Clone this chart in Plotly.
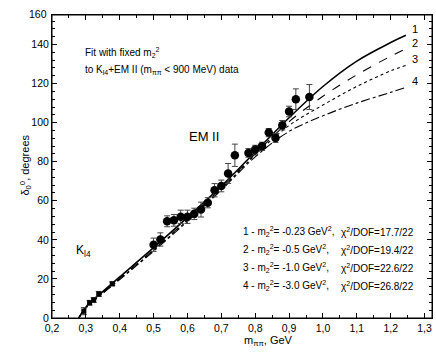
import plotly.graph_objects as go

# ---- data ----
em_x = [0.50, 0.52, 0.54, 0.56, 0.58, 0.60, 0.62, 0.64, 0.66, 0.68, 0.70, 0.72, 0.74,
        0.78, 0.80, 0.82, 0.84, 0.86, 0.88, 0.90, 0.92, 0.96]
em_y = [37.5, 40.2, 49.5, 50.0, 51.8, 51.8, 53.3, 55.5, 59.0, 65.4, 67.6, 74.0, 83.3,
        84.5, 86.2, 87.9, 94.9, 92.2, 98.7, 105.7, 112.0, 113.1]
em_err = [3.4, 3.4, 2.8, 3.0, 3.4, 3.4, 2.9, 3.8, 2.6, 3.4, 3.0, 5.1, 5.7,
          2.2, 2.2, 2.1, 2.1, 2.3, 2.4, 2.7, 5.3, 6.4]

kl4_x = [0.294, 0.311, 0.323, 0.338, 0.378]
kl4_y = [3.5, 7.8, 9.2, 12.3, 17.5]
kl4_err = [1.8, 1.2, 1.2, 1.3, 1.0]

fit_x = [0.279, 0.30, 0.35, 0.40, 0.50, 0.60, 0.70, 0.80, 0.90, 1.00, 1.10, 1.20, 1.245]
fit1 = [0, 5.5, 13.5, 21.0, 36.0, 51.5, 67.5, 85.0, 102.5, 118.5, 131.5, 141.0, 144.7]
fit2 = [0, 5.3, 13.0, 20.3, 35.0, 50.5, 66.5, 84.0, 100.5, 113.5, 124.5, 134.0, 137.9]
fit3 = [0, 5.2, 12.8, 20.0, 34.6, 50.0, 66.0, 83.5, 98.5, 109.0, 118.5, 126.5, 129.3]
fit4 = [0, 5.1, 12.6, 19.7, 34.2, 49.5, 65.5, 82.5, 95.5, 103.5, 110.0, 115.5, 118.0]

curve_labels = ["1", "2", "3", "4"]
legend_left = ["1 - m<sub>2</sub><sup>2</sup>= -0.23 GeV<sup>2</sup>,",
               "2 - m<sub>2</sub><sup>2</sup>= -0.5 GeV<sup>2</sup>,",
               "3 - m<sub>2</sub><sup>2</sup>= -1.0 GeV<sup>2</sup>,",
               "4 - m<sub>2</sub><sup>2</sup>= -3.0 GeV<sup>2</sup>,"]
legend_right = ["χ<sup>2</sup>/DOF=17.7/22", "χ<sup>2</sup>/DOF=19.4/22",
                "χ<sup>2</sup>/DOF=22.6/22", "χ<sup>2</sup>/DOF=26.8/22"]

x_ticks = [0.2, 0.3, 0.4, 0.5, 0.6, 0.7, 0.8, 0.9, 1.0, 1.1, 1.2, 1.3]
x_ticktext = ["0,2", "0,3", "0,4", "0,5", "0,6", "0,7", "0,8", "0,9", "1,0", "1,1", "1,2", "1,3"]
y_ticks = [0, 20, 40, 60, 80, 100, 120, 140]

FONT = "Liberation Sans, Arial, sans-serif"
PL, PT, PW, PH = 51.5, 15.0, 380.5, 303.0  # plot area in page pixels


def px(xp):
    return (xp - PL) / PW


def py(yp):
    return (PT + PH - yp) / PH


fig = go.Figure()

fits = [fit1, fit2, fit3, fit4]
dashes = ["solid", "dash", "dot", "dashdot"]
widths = [1.6, 1.1, 1.1, 1.1]
for f, d, w in zip(fits, dashes, widths):
    fig.add_trace(go.Scatter(x=fit_x, y=f, mode="lines",
                             line=dict(color="black", dash=d, width=w, shape="spline"),
                             showlegend=False, hoverinfo="skip"))

fig.add_trace(go.Scatter(x=kl4_x, y=kl4_y, mode="markers",
                         marker=dict(symbol="square", size=5, color="black"),
                         error_y=dict(type="data", array=kl4_err, color="#333", thickness=1, width=3),
                         showlegend=False))
fig.add_trace(go.Scatter(x=em_x, y=em_y, mode="markers",
                         marker=dict(symbol="circle", size=8.5, color="black"),
                         error_y=dict(type="data", array=em_err, color="#444", thickness=1, width=3),
                         showlegend=False))

axis_common = dict(showline=True, linecolor="black", linewidth=1, mirror="allticks", ticks="inside",
                   ticklen=5, tickcolor="black", tickwidth=1, showgrid=False, zeroline=False,
                   tickfont=dict(family=FONT, size=10.5, color="black"))

fig.update_xaxes(range=[0.2, 1.322], tickvals=x_ticks, ticktext=x_ticktext, ticklabeloverflow="allow",
                 minor=dict(dtick=0.05, ticks="inside", ticklen=3, tickcolor="black"), **axis_common)
fig.update_yaxes(range=[0, 155.1], tickvals=y_ticks,
                 minor=dict(dtick=4, ticks="inside", ticklen=3, tickcolor="black"), **axis_common)

# frame
fig.add_shape(type="rect", xref="paper", yref="paper", x0=0, y0=0, x1=1, y1=1,
              line=dict(color="black", width=1), layer="above")

ann = []
ann.append(dict(x=0, xref="paper", y=py(6), yref="paper", text="160", showarrow=False, xanchor="right",
                xshift=-3, font=dict(family=FONT, size=10.5, color="black")))
for lab, f in zip(curve_labels, fits):
    ann.append(dict(x=fit_x[-1], y=f[-1], text=lab, showarrow=False, xanchor="left", xshift=4, yshift=6,
                    font=dict(family=FONT, size=11, color="black")))
ann.append(dict(x=px(83), xref="paper", y=py(44), yref="paper",
                text="Fit with fixed m<sub>2</sub><sup>2</sup>", showarrow=False, xanchor="left",
                font=dict(family=FONT, size=10, color="black")))
ann.append(dict(x=px(83), xref="paper", y=py(62), yref="paper",
                text="to K<sub>l4</sub>+EM II (m<sub>ππ</sub> < 900 MeV) data", showarrow=False, xanchor="left",
                font=dict(family=FONT, size=10, color="black")))
ann.append(dict(x=px(204), xref="paper", y=py(136), yref="paper",
                text="EM II", showarrow=False, font=dict(family=FONT, size=13, color="black")))
ann.append(dict(x=px(74), xref="paper", y=py(261), yref="paper",
                text="K<sub>l4</sub>", showarrow=False, xanchor="left", font=dict(family=FONT, size=12, color="black")))
rows_y = [240, 258, 276, 294]
for ly, lt, rt in zip(rows_y, legend_left, legend_right):
    ann.append(dict(x=px(241), xref="paper", y=py(ly), yref="paper", text=lt,
                    showarrow=False, xanchor="left", font=dict(family=FONT, size=10, color="black")))
    ann.append(dict(x=px(339), xref="paper", y=py(ly), yref="paper", text=rt,
                    showarrow=False, xanchor="left", font=dict(family=FONT, size=10, color="black")))
ann.append(dict(x=px(268), xref="paper", y=py(350), yref="paper",
                text="m<sub>ππ</sub>, GeV", showarrow=False, font=dict(family=FONT, size=11, color="black")))
ann.append(dict(x=px(15), xref="paper", y=py(165), yref="paper",
                text="δ<sub>0</sub><sup>0</sup>, degrees", textangle=-90, showarrow=False,
                font=dict(family=FONT, size=11, color="black")))

fig.update_layout(width=436, height=362, margin=dict(l=52, r=4, t=15, b=44, autoexpand=False),
                  paper_bgcolor="white", plot_bgcolor="white", annotations=ann,
                  font=dict(family=FONT, color="black"), hovermode=False)

fig.write_html("out.html", config={"displayModeBar": False, "staticPlot": True},
               post_script="document.body.style.margin='0';document.body.style.padding='0';")
